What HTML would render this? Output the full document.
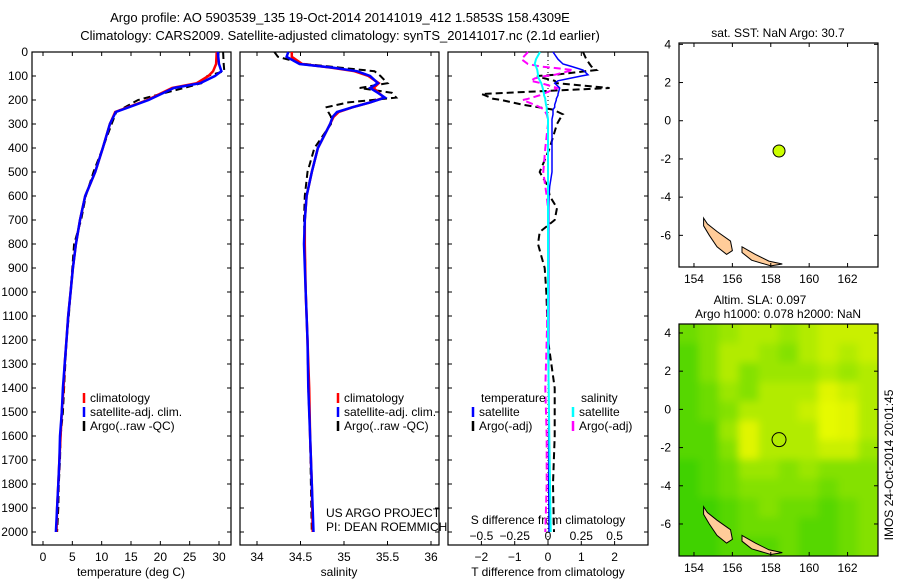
<!DOCTYPE html>
<html><head><meta charset="utf-8"><style>
body{margin:0;background:#fff;width:900px;height:580px;overflow:hidden}
svg{font-family:"Liberation Sans",sans-serif;font-size:12px}
</style></head><body>
<svg id="fig" width="900" height="580" xmlns="http://www.w3.org/2000/svg">
<defs>
<filter id="blur" x="0" y="0" width="1" height="1"><feGaussianBlur stdDeviation="4"/></filter>
<clipPath id="mapclip"><rect x="679" y="324" width="199" height="232"/></clipPath>
</defs>
<text x="340" y="22" text-anchor="middle" font-size="13">Argo profile: AO 5903539_135 19-Oct-2014 20141019_412 1.5853S 158.4309E</text>
<text x="340" y="40" text-anchor="middle" font-size="13">Climatology: CARS2009. Satellite-adjusted climatology: synTS_20141017.nc (2.1d earlier)</text>
<text transform="translate(893,465) rotate(-90)" text-anchor="middle" font-size="12">IMOS 24-Oct-2014 20:01:45</text>
<g id="g"></g>
</svg>
<script>
// ---- profile data ----
const depthT = [0,50,80,100,130,150,200,250,300,400,500,600,700,800,900,1000,1100,1200,1300,1400,1500,1600,1700,1800,1900,2000];
const tempClim = [29.6,29.5,29.0,28.2,26.2,22.0,17.8,12.3,11.4,10.2,8.9,7.2,6.3,5.6,5.1,4.7,4.3,4.0,3.7,3.5,3.2,3.0,2.8,2.6,2.4,2.3];
const tempSat  = [29.8,30.0,30.4,29.3,26.8,22.3,18.0,12.4,11.4,10.2,8.9,7.2,6.3,5.6,5.1,4.7,4.3,4.0,3.7,3.4,3.2,2.9,2.8,2.6,2.4,2.2];
const tempArgo = [30.7,30.8,30.9,28.0,27.0,24.0,16.2,12.5,11.7,10.2,8.6,7.3,6.5,5.3,5.0,4.7,4.4,4.0,3.8,3.6,3.4,3.0,2.9,2.7,2.6,2.4];
const depthS = [0,20,50,65,80,100,130,150,170,190,210,230,250,270,300,400,500,600,700,800,1000,1200,1400,1600,1800,2000];
const salClim = [34.40,34.40,34.52,34.85,35.12,35.28,35.40,35.34,35.40,35.46,35.30,35.10,34.94,34.88,34.84,34.70,34.63,34.57,34.55,34.55,34.56,34.58,34.60,34.61,34.63,34.64];
const salSat  = [34.36,34.34,34.49,34.87,35.15,35.30,35.39,35.30,35.39,35.47,35.30,35.10,34.92,34.87,34.84,34.70,34.63,34.57,34.55,34.54,34.56,34.58,34.59,34.61,34.63,34.65];
const salArgo = [34.20,34.24,34.55,34.95,35.35,35.42,35.50,35.18,35.55,35.60,35.05,34.80,34.82,34.85,34.85,34.66,34.58,34.55,34.54,34.55,34.56,34.58,34.59,34.61,34.62,34.63];
const depthD = [0,30,50,60,75,95,100,110,120,130,150,175,180,195,200,220,230,240,260,280,300,400,500,560,600,650,700,750,800,850,900,1000,1200,1400,1600,1800,2000];
const tdiffSat  = [0.15,0.3,0.45,0.7,1.05,1.2,1.0,0.65,0.3,0.2,0.35,0.3,0.3,0.25,0.25,0.2,0.2,0.15,0.15,0.12,0.12,0.12,0.12,0.05,0.03,0.02,0.02,0.02,0.02,0.02,0.02,0.02,0.02,0.02,0.02,0.02,0.03];
const tdiffArgo = [1.05,1.15,1.25,1.3,1.45,0.2,-0.33,-0.1,0.2,0.27,1.85,-2.0,-1.9,-1.65,-1.4,-0.75,-0.3,0.15,0.45,0.35,0.27,0.05,-0.25,0.0,0.05,0.27,0.2,-0.25,-0.3,-0.2,-0.1,-0.05,0.0,0.2,0.2,0.15,0.18];
const sdiffSat  = [-0.06,-0.09,-0.1,-0.09,-0.08,-0.075,-0.075,-0.07,-0.06,-0.05,-0.04,-0.03,-0.03,-0.02,-0.02,-0.015,-0.01,-0.01,-0.005,0,0,0,0,0,0,0,0,0,0,0,0,0,0,0.005,0.01,0.015,0.02];
const sdiffArgo = [-0.15,-0.2,-0.15,-0.06,0.19,0.05,-0.02,-0.1,-0.13,-0.05,0.07,-0.04,-0.06,-0.15,-0.19,-0.1,-0.06,-0.03,-0.01,0,0,-0.02,-0.035,-0.02,-0.01,0,0,0,0,0,0,0,-0.01,-0.02,-0.01,-0.01,-0.02];
const depthTicks = [0,100,200,300,400,500,600,700,800,900,1000,1100,1200,1300,1400,1500,1600,1700,1800,1900,2000];
const tempTicks = [0,5,10,15,20,25,30];
const salTicks = [34,34.5,35,35.5,36];
const salTickLabels = ["34","34.5","35","35.5","36"];
const tdTicks = [-2,-1,0,1,2];
const sdTicks = [-0.5,-0.25,0,0.25,0.5];
const sdTickLabels = ["\u22120.5","\u22120.25","0","0.25","0.5"];
// ---- map data ----
const lonTicks = [154,156,158,160,162];
const latTicks = [4,2,0,-2,-4,-6];
const argoLon = 158.43, argoLat = -1.585;
const slaGrid = [
[.3,.4,.5,.6,.6,.5,.6,.7,.7,.7],
[.2,.4,.6,.6,.5,.4,.6,.7,.6,.7],
[.2,.4,.6,.4,.5,.5,.5,.6,.5,.6],
[.2,.3,.5,.4,.6,.6,.6,.8,.7,.6],
[.2,.3,.4,.6,.6,.6,.7,.9,.8,.6],
[.2,.2,.5,.8,.6,.6,.6,.9,.8,.6],
[.2,.2,.4,.8,.6,.6,.6,.7,.7,.5],
[.1,.2,.3,.5,.5,.4,.5,.4,.4,.4],
[.1,.2,.3,.4,.4,.4,.4,.3,.4,.4],
[.1,.1,.2,.3,.4,.3,.3,.2,.3,.4],
[.1,.1,.2,.3,.3,.3,.2,.2,.3,.4],
[.1,.1,.2,.2,.2,.3,.2,.2,.3,.4]];
const island1 = [[154.5,-5.1],[154.7,-5.4],[155.2,-5.8],[155.9,-6.3],[156.0,-6.8],[155.7,-7.0],[155.2,-6.6],[154.8,-6.0],[154.5,-5.5]];
const island2 = [[156.5,-6.6],[157.2,-7.0],[157.9,-7.35],[158.6,-7.5],[158.0,-7.6],[157.0,-7.3],[156.5,-6.9]];

const NS="http://www.w3.org/2000/svg", G=document.getElementById('g');
function mk(tag,attrs,parent){const e=document.createElementNS(NS,tag);for(const k in attrs)e.setAttribute(k,attrs[k]);(parent||G).appendChild(e);return e;}
function txt(x,y,s,anchor,parent){const t=mk('text',{x:x,y:y,'text-anchor':anchor||'start'},parent);t.textContent=s;return t;}
const Y0=52, Y1=545;
const yD = d => 52 + d*0.24;
const xT = t => 43 + t*5.867;
const xS = s => 257 + (s-34)*87;
const xTD = d => 548 + d*33.3;
const xSD = d => 548 + d*133.2;

function panel(x0,x1,name){
  const r=mk('rect',{x:x0,y:Y0,width:x1-x0,height:Y1-Y0,fill:'none',stroke:'#000','stroke-width':1.2});
  
  
  depthTicks.forEach(d=>{mk('line',{x1:x0,x2:x0+4,y1:yD(d),y2:yD(d),stroke:'#000'});mk('line',{x1:x1,x2:x1-4,y1:yD(d),y2:yD(d),stroke:'#000'});});
}
function line(xs,ys,xf,color,w,dash,name){
  const pts=xs.map((v,i)=>xf(v).toFixed(1)+','+yD(ys[i]).toFixed(1)).join(' ');
  const p=mk('polyline',{points:pts,fill:'none',stroke:color,'stroke-width':w});
  if(dash)p.setAttribute('stroke-dasharray',dash);
  
  
}
function legend(x,y,color,label,name){
  mk('line',{x1:x,x2:x,y1:y-9,y2:y+1,stroke:color,'stroke-width':2.5});
  const t=txt(x+6,y,label);
  
  
}
depthTicks.forEach(d=>{const t=txt(28,yD(d)+4,String(d),'end');});

// panel 1
panel(32,231,'temperature-panel');
tempTicks.forEach(t=>{mk('line',{x1:xT(t),x2:xT(t),y1:Y1,y2:Y1-4,stroke:'#000'});mk('line',{x1:xT(t),x2:xT(t),y1:Y0,y2:Y0+4,stroke:'#000'});const l=txt(xT(t),561,String(t),'middle');});
txt(131,576,'temperature (deg C)','middle');
line(tempArgo,depthT,xT,'#000',2,'7,4','temp-argo-line');
line(tempClim,depthT,xT,'#f00',2.5,null,'temp-clim-line');
line(tempSat,depthT,xT,'#00f',2.5,null,'temp-sat-line');
legend(84,402,'#f00','climatology','legend-climatology');
legend(84,416,'#00f','satellite-adj. clim.','legend-sat-adj');
legend(84,430,'#000','Argo(..raw -QC)','legend-argo');

// panel 2
panel(240,439,'salinity-panel');
salTicks.forEach((s,i)=>{mk('line',{x1:xS(s),x2:xS(s),y1:Y1,y2:Y1-4,stroke:'#000'});mk('line',{x1:xS(s),x2:xS(s),y1:Y0,y2:Y0+4,stroke:'#000'});const l=txt(xS(s),561,salTickLabels[i],'middle');});
txt(339,576,'salinity','middle');
line(salArgo,depthS,xS,'#000',2,'7,4','sal-argo-line');
line(salClim,depthS,xS,'#f00',2.5,null,'sal-clim-line');
line(salSat,depthS,xS,'#00f',2.5,null,'sal-sat-line');
legend(338,402,'#f00','climatology','legend-climatology-2');
legend(338,416,'#00f','satellite-adj. clim.','legend-sat-adj-2');
legend(338,430,'#000','Argo(..raw -QC)','legend-argo-2');
txt(326,517,'US ARGO PROJECT');
txt(326,531,'PI: DEAN ROEMMICH');

// panel 3
panel(448,648,'difference-panel');
mk('line',{x1:548,x2:548,y1:Y0,y2:Y1,stroke:'#000','stroke-dasharray':'1,3'});
tdTicks.forEach(t=>{mk('line',{x1:xTD(t),x2:xTD(t),y1:Y1,y2:Y1-4,stroke:'#000'});mk('line',{x1:xTD(t),x2:xTD(t),y1:Y0,y2:Y0+4,stroke:'#000'});const l=txt(xTD(t),561,String(t).replace('-','\u2212'),'middle');});
sdTicks.forEach((s,i)=>{const l=txt(xSD(s),540,sdTickLabels[i],'middle');});
txt(548,524,'S difference from climatology','middle');
txt(548,576,'T difference from climatology','middle');
line(tdiffArgo,depthD,xTD,'#000',2,'7,4','tdiff-argo-line');
line(sdiffArgo,depthD,xSD,'#f0f',2,'7,4','sdiff-argo-line');
line(tdiffSat,depthD,xTD,'#00f',1.5,null,'tdiff-sat-line');
line(sdiffSat,depthD,xSD,'#0ff',2,null,'sdiff-sat-line');
txt(481,402,'temperature');
txt(581,402,'salinity');
legend(473,416,'#00f','satellite','legend-tdiff-sat');
legend(473,430,'#000','Argo(-adj)','legend-tdiff-argo');
legend(573,416,'#0ff','satellite','legend-sdiff-sat');
legend(573,430,'#f0f','Argo(-adj)','legend-sdiff-argo');

// maps
function mapPanel(top,bottom,latTop,withGrid,name,titleLines){
  const mx0=679,mx1=878,lon0=153.22,lonS=19.2,latS=19.1;
  const X=lon=>mx0+(lon-lon0)*lonS, Y=lat=>top+(latTop-lat)*latS;
  const g=mk('g',{});
  
  
  if(withGrid){
    const clipG=mk('g',{'clip-path':'url(#mapclip)'},g);
    const gridG=mk('g',{filter:'url(#blur)'},clipG);
    const lonA=153.22, lonB=163.58, latA=latTop, latB=latTop-(bottom-top)/latS;
    const cw=(lonB-lonA)/slaGrid[0].length, ch=(latA-latB)/slaGrid.length;
    // padding cells so blur does not fade edges
    slaGrid.forEach((row,r)=>row.forEach((v,c)=>{
      const pad=(c===0?8:0), padT=(r===0?8:0);
      const ex=(c===row.length-1?8:0), ey=(r===slaGrid.length-1?8:0);
      const cell=mk('rect',{x:(X(lonA+c*cw)-pad).toFixed(1),y:(Y(latA-r*ch)-padT).toFixed(1),width:(cw*lonS+0.6+pad+ex).toFixed(1),height:(ch*latS+0.6+padT+ey).toFixed(1),fill:`rgb(${Math.min(230,Math.round(40+v*230))},${Math.round(205+v*50)},0)`},gridG);
      
      
    }));
  }
  [island1,island2].forEach(isl=>{
    const p=mk('polygon',{points:isl.map(q=>X(q[0]).toFixed(1)+','+Y(q[1]).toFixed(1)).join(' '),fill:'#ffcc99',stroke:'#000','stroke-width':1},g);
    
    
  });
  mk('rect',{x:mx0,y:top,width:mx1-mx0,height:bottom-top,fill:'none',stroke:'#000','stroke-width':1.2},g);
  lonTicks.forEach(l=>{mk('line',{x1:X(l),x2:X(l),y1:bottom,y2:bottom-4,stroke:'#000'},g);mk('line',{x1:X(l),x2:X(l),y1:top,y2:top+4,stroke:'#000'},g);const t=txt(X(l),bottom+16,String(l),'middle',g);});
  latTicks.forEach(l=>{mk('line',{x1:mx0,x2:mx0+4,y1:Y(l),y2:Y(l),stroke:'#000'},g);mk('line',{x1:mx1,x2:mx1-4,y1:Y(l),y2:Y(l),stroke:'#000'},g);const t=txt(mx0-8,Y(l)+4,String(l),'end',g);});
  const c=mk('circle',{cx:X(argoLon),cy:Y(argoLat),r:withGrid?7:6,fill:withGrid?'none':'#ccff00',stroke:'#000','stroke-width':1},g);
  
  
  titleLines.forEach((s,i)=>{const t=txt(i===0&&titleLines.length>1?760:778,top-(titleLines.length-i-1)*14-6,s,'middle',g);});
}
mapPanel(43,267,4.07,false,'sst-map',['sat. SST: NaN Argo: 30.7']);
mapPanel(324,556,4.47,true,'sla-map',['Altim. SLA: 0.097','Argo h1000: 0.078 h2000: NaN']);
</script>
</body></html>
